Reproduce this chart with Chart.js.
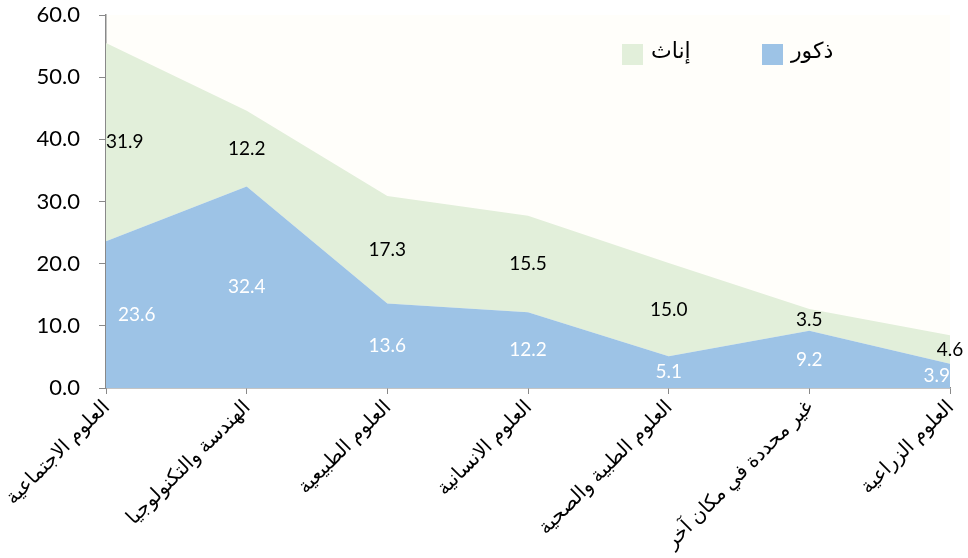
<!DOCTYPE html>
<html lang="ar">
<head>
<meta charset="utf-8">
<script src="https://cdn.jsdelivr.net/npm/chart.js@4.4.1/dist/chart.umd.min.js"></script>
<style>
    html, body { margin: 0; padding: 0; background: #ffffff; }
    #wrap { width: 968px; height: 558px; position: relative; }
</style>
</head>
<body>
<div id="wrap"><canvas id="chart"></canvas></div>
<script>
// categories (fields of study)
var categories = [
    'العلوم الاجتماعية',
    'الهندسة والتكنولوجيا',
    'العلوم الطبيعية',
    'العلوم الانسانية',
    'العلوم الطبية والصحية',
    'غير محددة في مكان آخر',
    'العلوم الزراعية'
];
var maleValues = [23.6, 32.4, 13.6, 12.2, 5.1, 9.2, 3.9];
var femaleValues = [31.9, 12.2, 17.3, 15.5, 15.0, 3.5, 4.6];
var seriesNames = ['ذكور', 'إناث'];
var yTicks = [0, 10, 20, 30, 40, 50, 60];

var FONT = "Lato, 'DejaVu Sans', sans-serif";
var BLUE = '#9dc3e6';
var GREEN = '#e2efda';

// plot area background
var plotBg = {
    id: 'plotBg',
    beforeDraw: function(chart) {
        var a = chart.chartArea, ctx = chart.ctx;
        ctx.save();
        ctx.fillStyle = '#fffefa';
        ctx.fillRect(a.left, a.top, a.right - a.left, a.bottom - a.top);
        ctx.restore();
    }
};

// value labels centred in each band
var bandLabels = {
    id: 'bandLabels',
    afterDatasetsDraw: function(chart) {
        var ctx = chart.ctx, a = chart.chartArea;
        var xs = chart.scales.x, ys = chart.scales.y;
        ctx.save();
        ctx.font = '19px ' + FONT;
        ctx.textBaseline = 'middle';
        ctx.textAlign = 'center';
        chart.data.datasets.forEach(function(ds, di) {
            ds.data.forEach(function(v, i) {
                var base = 0;
                for (var k = 0; k < di; k++) base += chart.data.datasets[k].data[i];
                var y = ys.getPixelForValue(base + v / 2);
                var x = xs.getPixelForValue(i);
                var txt = v.toFixed(1);
                var w = ctx.measureText(txt).width;
                var minX = a.left + w / 2 + (di === 0 ? 12 : 0);
                var maxX = (di === 0 ? a.right : chart.width) - w / 2;
                x = Math.max(minX, Math.min(maxX, x));
                ctx.fillStyle = di === 0 ? '#ffffff' : '#000000';
                ctx.fillText(txt, x, y);
            });
        });
        ctx.restore();
    }
};

// legend drawn inside the plot, top right
var innerLegend = {
    id: 'innerLegend',
    afterDraw: function(chart) {
        var ctx = chart.ctx;
        var items = [
            { text: seriesNames[1], color: GREEN, x: 622 },
            { text: seriesNames[0], color: BLUE, x: 762 }
        ];
        ctx.save();
        ctx.font = '22px ' + FONT;
        ctx.textBaseline = 'middle';
        ctx.textAlign = 'left';
        items.forEach(function(it) {
            ctx.fillStyle = it.color;
            ctx.fillRect(it.x, 44, 21, 21);
            ctx.fillStyle = '#000000';
            ctx.fillText(it.text, it.x + 29, 51);
        });
        ctx.restore();
    }
};

new Chart(document.getElementById('chart'), {
    type: 'line',
    data: {
        labels: categories,
        datasets: [{
            label: seriesNames[0],
            data: maleValues,
            backgroundColor: BLUE,
            borderWidth: 0,
            pointRadius: 0,
            fill: 'origin',
            tension: 0
        }, {
            label: seriesNames[1],
            data: femaleValues,
            backgroundColor: GREEN,
            borderWidth: 0,
            pointRadius: 0,
            fill: '-1',
            tension: 0
        }]
    },
    options: {
        responsive: true,
        maintainAspectRatio: false,
        animation: false,
        layout: {
            padding: { top: 15, right: 18, left: 0, bottom: 0 }
        },
        plugins: {
            legend: { display: false },
            tooltip: { enabled: false }
        },
        scales: {
            x: {
                offset: false,
                grid: {
                    display: true,
                    drawOnChartArea: false,
                    drawTicks: true,
                    tickLength: 6,
                    color: '#898989'
                },
                border: { color: '#898989', width: 1.5 },
                ticks: {
                    autoSkip: false,
                    maxRotation: 45,
                    minRotation: 45,
                    padding: 1,
                    color: '#000000',
                    font: { family: FONT, size: 20 }
                },
                afterFit: function(s) {
                    s.height = 170;
                    s.paddingLeft = 0;
                    s.paddingRight = 0;
                }
            },
            y: {
                stacked: true,
                min: 0,
                max: 60,
                afterBuildTicks: function(s) {
                    s.ticks = yTicks.map(function(v) { return { value: v }; });
                },
                grid: {
                    display: true,
                    drawOnChartArea: false,
                    drawTicks: true,
                    tickLength: 7,
                    color: '#898989'
                },
                border: { color: '#898989', width: 1.5 },
                ticks: {
                    padding: 19,
                    color: '#000000',
                    font: { family: FONT, size: 22 },
                    callback: function(v) { return Number(v).toFixed(1); }
                },
                afterFit: function(s) {
                    s.width = 106;
                    s.paddingTop = 0;
                    s.paddingBottom = 0;
                }
            }
        }
    },
    plugins: [plotBg, bandLabels, innerLegend]
});
</script>
</body>
</html>
